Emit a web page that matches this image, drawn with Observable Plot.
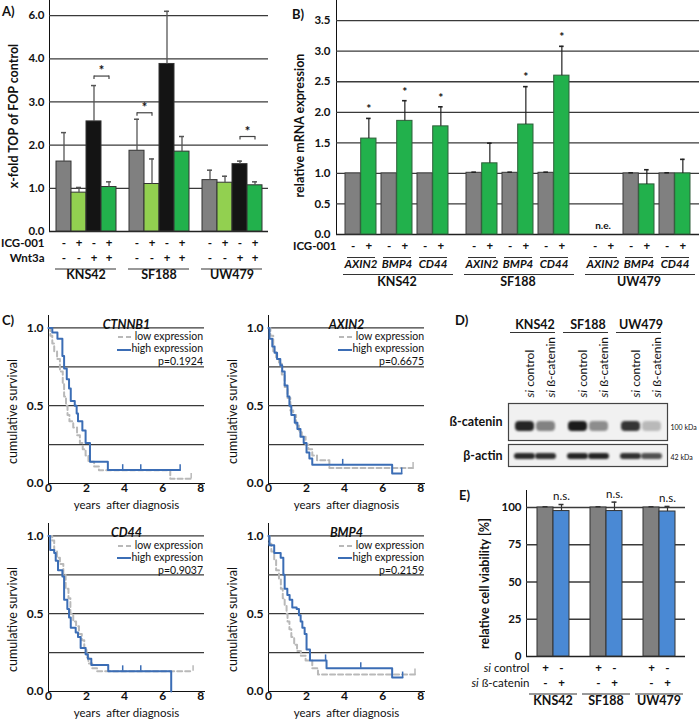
<!DOCTYPE html>
<html><head><meta charset="utf-8">
<script src="https://cdn.jsdelivr.net/npm/d3@7"></script>
<script src="https://cdn.jsdelivr.net/npm/@observablehq/plot@0.6"></script>
<style>
html,body{margin:0;padding:0;background:#fff}
#fig{position:relative;width:700px;height:723px;overflow:hidden;font-family:Lato,sans-serif;color:#111}
#fig svg{max-width:none}
.tag{position:absolute;font-weight:bold;font-size:13px;line-height:14px}
.kmleg{position:absolute;text-align:right;font-size:10.5px;line-height:12.6px;white-space:nowrap}
.kmleg svg{vertical-align:middle}
</style></head><body><div id="fig"></div>
<script>
// ---------------- data ----------------
const cellLines = ["KNS42", "SF188", "UW479"];

// Panel A: TOP/FOP flash
const condA = ["ctrl", "ICG-001", "Wnt3a", "ICG-001+Wnt3a"];
const icgSignA = ["-", "+", "-", "+"];
const wntSignA = ["-", "-", "+", "+"];
const colorsA = ["#808080", "#92d050", "#141414", "#22b14c"];
const topValue = [[1.62, 0.90, 2.55, 1.03], [1.87, 1.10, 3.88, 1.85], [1.19, 1.13, 1.56, 1.07]];
const topErr = [[0.67, 0.12, 0.83, 0.12], [0.73, 0.58, 2.32, 0.35], [0.23, 0.15, 0.07, 0.08]];
const sigLineA = ["KNS42", "SF188", "UW479"];
const sigFromA = ["Wnt3a", "ctrl", "Wnt3a"];
const sigToA = ["ICG-001+Wnt3a", "ICG-001", "ICG-001+Wnt3a"];
const sigHeightA = [3.6, 2.75, 2.2];
const yTicksA = [0, 1, 2, 3, 4, 6];

// Panel B: qPCR
const genes = ["AXIN2", "BMP4", "CD44"];
const mrnaCtrl = [[1, 1, 1], [1.01, 1.01, 1.01], [null, 1, 1]];
const mrnaCtrlErr = [[0, 0, 0], [0.01, 0.01, 0.01], [null, 0.01, 0.01]];
const mrnaIcg = [[1.57, 1.86, 1.77], [1.165, 1.80, 2.60], [null, 0.82, 1.00]];
const mrnaIcgErr = [[0.33, 0.33, 0.32], [0.33, 0.62, 0.48], [null, 0.24, 0.23]];
const mrnaSig = [[true, true, true], [false, true, true], [false, false, false]];
const yTicksB = [0, 0.5, 1, 1.5, 2, 2.5, 3, 3.5];

// Panel C: Kaplan-Meier [years, survival]
const kmTitles = ["CTNNB1", "AXIN2", "CD44", "BMP4"];
const kmP = ["0.1924", "0.6675", "0.9037", "0.2159"];
const ctnnb1Low = [[0,1],[0.1,0.95],[0.2,0.9],[0.3,0.85],[0.45,0.8],[0.6,0.72],[0.75,0.64],[0.82,0.56],[0.92,0.5],[1.0,0.44],[1.1,0.4],[1.3,0.36],[1.5,0.31],[1.65,0.26],[1.8,0.22],[1.95,0.18],[2.1,0.14],[2.4,0.11],[2.65,0.085],[6.4,0.03],[7.5,0.03]];
const ctnnb1High = [[0,1],[0.2,0.97],[0.47,0.93],[0.73,0.82],[0.82,0.74],[0.96,0.67],[1.08,0.61],[1.17,0.53],[1.38,0.5],[1.48,0.45],[1.55,0.4],[1.78,0.34],[1.95,0.26],[2.18,0.14],[3.12,0.086],[6.92,0.086]];
const ctnnb1LowCens = [7.5];
const ctnnb1HighCens = [3.9, 4.85, 6.92];
const axin2Low = [[0,1],[0.1,0.95],[0.25,0.85],[0.4,0.8],[0.55,0.77],[0.7,0.7],[0.85,0.62],[1.0,0.55],[1.15,0.47],[1.3,0.44],[1.45,0.38],[1.6,0.33],[1.75,0.3],[1.95,0.25],[2.1,0.22],[2.3,0.18],[2.55,0.15],[3.2,0.1],[7.6,0.1]];
const axin2High = [[0,1],[0.05,0.93],[0.2,0.88],[0.32,0.84],[0.45,0.8],[0.62,0.76],[0.72,0.72],[0.85,0.63],[1.0,0.56],[1.1,0.5],[1.2,0.44],[1.38,0.39],[1.52,0.35],[1.68,0.3],[1.85,0.26],[2.0,0.2],[2.15,0.16],[2.3,0.12],[6.5,0.065],[7.0,0.065]];
const axin2LowCens = [7.6];
const axin2HighCens = [3.9, 7.0];
const cd44Low = [[0,1],[0.2,0.97],[0.3,0.9],[0.45,0.86],[0.6,0.82],[0.78,0.75],[0.9,0.66],[1.05,0.6],[1.15,0.5],[1.3,0.45],[1.45,0.42],[1.6,0.37],[1.75,0.33],[1.88,0.28],[2.0,0.22],[2.1,0.18],[2.3,0.15],[2.55,0.13],[7.6,0.13]];
const cd44High = [[0,1],[0.09,0.91],[0.3,0.89],[0.38,0.84],[0.5,0.78],[0.73,0.74],[0.82,0.59],[0.99,0.53],[1.08,0.475],[1.17,0.41],[1.43,0.38],[1.55,0.35],[1.69,0.28],[1.95,0.24],[2.07,0.21],[2.25,0.17],[3.14,0.13],[6.45,0.0]];
const cd44LowCens = [7.6];
const cd44HighCens = [3.9, 4.85];
const bmp4Low = [[0,1],[0.05,0.95],[0.15,0.9],[0.3,0.85],[0.4,0.78],[0.55,0.72],[0.65,0.66],[0.75,0.6],[0.85,0.55],[0.95,0.5],[1.0,0.45],[1.1,0.4],[1.2,0.35],[1.35,0.3],[1.5,0.26],[1.7,0.23],[1.95,0.2],[2.3,0.15],[2.6,0.11],[7.7,0.11]];
const bmp4High = [[0,1],[0.05,0.94],[0.3,0.89],[0.64,0.86],[0.78,0.75],[0.85,0.66],[0.99,0.62],[1.11,0.59],[1.25,0.54],[1.48,0.53],[1.6,0.49],[1.69,0.45],[1.78,0.41],[1.9,0.37],[2.0,0.27],[2.18,0.2],[3.05,0.15],[6.5,0.09],[7.05,0.09]];
const bmp4LowCens = [7.7];
const bmp4HighCens = [3.0, 4.85, 7.05];

// Panel D: western blot band intensities
const blotLanes = ["si control", "si ß-catenin"];
const cateninSignal = [[0.92, 0.5], [0.97, 0.45], [0.85, 0.25]];
const actinSignal = [[0.9, 0.88], [0.93, 0.93], [0.88, 0.72]];

// Panel E: viability
const condE = ["si control", "si ß-catenin"];
const ctrlSignE = ["+", "-"];
const siSignE = ["-", "+"];
const colorsE = ["#808080", "#4a89d4"];
const viabValue = [[100, 97.6], [100, 97.6], [100, 97.3]];
const viabErr = [[0.5, 4.4], [0.5, 6.0], [0.5, 3.4]];
const viabTicks = [0, 25, 50, 75, 100];

// ---------------- helpers ----------------
const fig = document.getElementById("fig");
const baseStyle = {fontFamily: "Lato, sans-serif", fontSize: "11.5px", fontWeight: "bold", color: "#111", background: "transparent", overflow: "visible"};
function put(node, left, top) {
  node.style.position = "absolute"; node.style.left = left + "px"; node.style.top = top + "px";
  fig.appendChild(node); return node;
}
function tag(text, left, top) {
  const d = document.createElement("div"); d.className = "tag"; d.textContent = text;
  d.style.left = left + "px"; d.style.top = top + "px"; fig.appendChild(d);
}
function italicSi(svg) {
  d3.select(svg).selectAll("text").each(function () {
    const t = this.textContent;
    if (t.startsWith("si ") && this.childElementCount === 0) {
      this.textContent = "";
      d3.select(this).append("tspan").attr("font-style", "italic").text("si");
      d3.select(this).append("tspan").text(t.slice(2));
    }
  });
  return svg;
}
const first = () => cellLines[0];
const last = () => cellLines[cellLines.length - 1];
const gridColor = "#3a3a3a";

// ---------------- Panel A ----------------
const posA = v => v <= 4 ? v : 4 + (v - 4) / 2;
const invA = p => p <= 4 ? p : 4 + (p - 4) * 2;
const rowsA = cellLines.flatMap((line, i) => condA.map((cond, j) => ({line, cond, value: topValue[i][j], err: topErr[i][j], icg: icgSignA[j], wnt: wntSignA[j]})));
const sigA = sigLineA.map((line, i) => ({line, from: sigFromA[i], to: sigToA[i], h: sigHeightA[i]}));
const sigEndsA = sigA.flatMap(d => [{line: d.line, x: d.from, h: d.h}, {line: d.line, x: d.to, h: d.h}]);

const plotA = Plot.plot({
  width: 270, height: 290, marginTop: 0, marginRight: 2, marginBottom: 59, marginLeft: 48,
  style: baseStyle,
  fx: {domain: cellLines, paddingInner: 0, paddingOuter: 0, axis: null},
  x: {domain: condA, paddingInner: 0, paddingOuter: 0.39, axis: null},
  y: {domain: [0, 5.35], ticks: yTicksA.map(posA), tickFormat: d => invA(d).toFixed(1), tickSize: 0, tickPadding: 5, line: true, label: null},
  color: {domain: condA, range: colorsA},
  marks: [
    Plot.ruleY(yTicksA.slice(1).map(posA), {stroke: gridColor, strokeWidth: 1.3}),
    Plot.ruleY([0], {stroke: "#222", strokeWidth: 1.5}),
    Plot.barY(rowsA, {fx: "line", x: "cond", y: d => posA(d.value), fill: "cond", stroke: "#333", strokeWidth: 1}),
    Plot.ruleX(rowsA, {fx: "line", x: "cond", y1: d => posA(d.value), y2: d => posA(d.value + d.err), stroke: "#555", strokeWidth: 1.3}),
    Plot.tickY(rowsA, {fx: "line", x: "cond", y: d => posA(d.value + d.err), stroke: "#555", strokeWidth: 1.5, inset: 5}),
    Plot.link(sigA, {fx: "line", x1: "from", x2: "to", y1: d => posA(d.h), y2: d => posA(d.h), stroke: "#444", strokeWidth: 1.2}),
    Plot.ruleX(sigEndsA, {fx: "line", x: "x", y1: d => posA(d.h), y2: d => posA(d.h) - 0.08, stroke: "#444", strokeWidth: 1.2}),
    Plot.text(sigA, {fx: "line", x: "from", y: d => posA(d.h), dx: 7.6, dy: -5, text: () => "*", fontSize: 13}),
    Plot.text(rowsA, {fx: "line", x: "cond", text: "icg", frameAnchor: "bottom", dy: 15.5}),
    Plot.text(rowsA, {fx: "line", x: "cond", text: "wnt", frameAnchor: "bottom", dy: 30}),
    Plot.text(["ICG-001"], {fx: first, frameAnchor: "bottom-left", textAnchor: "end", dx: -5, dy: 15.5}),
    Plot.text(["Wnt3a"], {fx: first, frameAnchor: "bottom-left", textAnchor: "end", dx: -5, dy: 30}),
    Plot.ruleY(cellLines, {fx: d => d, y: () => 0, dy: 37.5, insetLeft: 6, insetRight: 6, stroke: "#333"}),
    Plot.text(cellLines, {fx: d => d, text: d => d, frameAnchor: "bottom", dy: 47.5, fontSize: 12.5}),
    Plot.text(["x-fold TOP of FOP control"], {fx: first, frameAnchor: "left", textAnchor: "middle", rotate: -90, dx: -36, fontSize: 12.5})
  ]
});
put(plotA, 0, 0);

// ---------------- Panel B ----------------
const HB = 15.7;
const rowsB = cellLines.flatMap((line, i) => genes.map((gene, j) => ({line, gene, ctrl: mrnaCtrl[i][j], ctrlErr: mrnaCtrlErr[i][j], icg: mrnaIcg[i][j], icgErr: mrnaIcgErr[i][j], sig: mrnaSig[i][j]})));
const rowsBm = rowsB.filter(d => d.ctrl != null);
const plotB = Plot.plot({
  width: 450, height: 292, marginTop: 0, marginRight: 0, marginBottom: 58, marginLeft: 85,
  style: baseStyle,
  fx: {domain: cellLines, paddingInner: 0, paddingOuter: 0, axis: null},
  x: {domain: genes, paddingInner: 0.138, paddingOuter: 0.22, axis: null},
  y: {domain: [0, 3.83], ticks: yTicksB, tickFormat: d => d.toFixed(1), tickSize: 0, tickPadding: 6, line: true, label: null},
  marks: [
    Plot.ruleY(yTicksB.slice(1), {stroke: gridColor, strokeWidth: 1.3}),
    Plot.ruleY([0], {stroke: "#222", strokeWidth: 1.5}),
    Plot.barY(rowsBm, {fx: "line", x: "gene", y: "ctrl", fill: "#808080", stroke: "#3a3a3a", strokeWidth: 1, insetRight: HB}),
    Plot.barY(rowsBm, {fx: "line", x: "gene", y: "icg", fill: "#22b14c", stroke: "#2f5e3a", strokeWidth: 1, insetLeft: HB}),
    Plot.ruleX(rowsBm, {fx: "line", x: "gene", y1: "icg", y2: d => d.icg + d.icgErr, dx: HB / 2, stroke: "#222", strokeWidth: 1.2}),
    Plot.tickY(rowsBm, {fx: "line", x: "gene", y: d => d.icg + d.icgErr, dx: HB / 2, insetLeft: 13.2, insetRight: 13.2, stroke: "#222", strokeWidth: 1.6}),
    Plot.tickY(rowsBm.filter(d => d.ctrlErr > 0), {fx: "line", x: "gene", y: d => d.ctrl + d.ctrlErr, dx: -HB / 2, insetLeft: 13.2, insetRight: 13.2, stroke: "#222", strokeWidth: 1.6}),
    Plot.text(rowsBm.filter(d => d.sig), {fx: "line", x: "gene", y: d => d.icg + d.icgErr, dx: HB / 2, dy: -9, text: () => "*", fontSize: 12}),
    Plot.text(rowsB.filter(d => d.ctrl == null), {fx: "line", x: "gene", y: () => 0, dy: -9, text: () => "n.e.", fontSize: 10}),
    Plot.text(rowsB, {fx: "line", x: "gene", text: () => "-", frameAnchor: "bottom", dx: -HB / 2, dy: 15.5}),
    Plot.text(rowsB, {fx: "line", x: "gene", text: () => "+", frameAnchor: "bottom", dx: HB / 2, dy: 15.5}),
    Plot.tickY(rowsB, {fx: "line", x: "gene", y: () => 0, dy: 23, insetLeft: 2, insetRight: 1, stroke: "#333"}),
    Plot.text(rowsB, {fx: "line", x: "gene", text: "gene", frameAnchor: "bottom", dy: 33, fontStyle: "italic"}),
    Plot.ruleY(cellLines, {fx: d => d, y: () => 0, dy: 40, insetLeft: 7, insetRight: 4, stroke: "#333"}),
    Plot.text(cellLines, {fx: d => d, text: d => d, frameAnchor: "bottom", dy: 51, fontSize: 12.5}),
    Plot.text(["ICG-001"], {fx: first, frameAnchor: "bottom-left", textAnchor: "end", dx: 0, dy: 15.5}),
    Plot.text(["relative mRNA expression"], {fx: first, frameAnchor: "left", textAnchor: "middle", rotate: -90, dx: -37, dy: 8, fontSize: 12.5})
  ]
});
put(plotB, 250, 0);

// ---------------- Panel C ----------------
const grayKM = "#b9b9b9", blueKM = "#3b6db5";
function stepAt(series, t) { let s = series[0][1]; for (const [tt, ss] of series) if (tt <= t) s = ss; return s; }
function kmPlot(title, low, high, lowCens, highCens) {
  const toObj = a => a.map(([t, s]) => ({t, s}));
  const cens = (ser, ts) => ts.map(t => ({t, s: stepAt(ser, t)}));
  return Plot.plot({
    width: 215, height: 205, marginTop: 10, marginRight: 11, marginBottom: 27, marginLeft: 48,
    style: {...baseStyle, fontSize: "12px"},
    x: {domain: [0, 8.2], ticks: [0, 2, 4, 6, 8], tickFormat: d => String(d), tickSize: 0, tickPadding: 0, line: true, label: null},
    y: {domain: [0, 1.08], ticks: [0, 0.5, 1], tickFormat: d => d.toFixed(1), tickSize: 0, tickPadding: 5, line: true, label: null},
    marks: [
      Plot.ruleY([0.25, 0.5, 0.75, 1], {stroke: gridColor, strokeWidth: 1.3}),
      Plot.line(toObj(low), {x: "t", y: "s", curve: "step-after", stroke: grayKM, strokeWidth: 2, strokeDasharray: "5,3"}),
      Plot.ruleX(cens(low, lowCens), {x: "t", y1: "s", y2: d => d.s + 0.035, stroke: grayKM, strokeWidth: 1.5}),
      Plot.line(toObj(high), {x: "t", y: "s", curve: "step-after", stroke: blueKM, strokeWidth: 2}),
      Plot.ruleX(cens(high, highCens), {x: "t", y1: "s", y2: d => d.s + 0.035, stroke: blueKM, strokeWidth: 1.5}),
      Plot.text([title], {frameAnchor: "top", dy: 5, fontStyle: "italic", fontSize: 12.5}),
      Plot.text(["years  after diagnosis"], {frameAnchor: "bottom", dy: 25, fontWeight: "normal", fontSize: 11.5}),
      Plot.text(["cumulative survival"], {frameAnchor: "left", textAnchor: "middle", rotate: -90, dx: -36, dy: 12, fontWeight: "normal", fontSize: 12.5})
    ]
  });
}
function kmLegend(right, top, p) {
  const div = document.createElement("div");
  div.className = "kmleg";
  div.style.right = (700 - right) + "px"; div.style.top = top + "px";
  div.innerHTML = `<div><svg width="14" height="6"><line x1="0" y1="3" x2="14" y2="3" stroke="${grayKM}" stroke-width="2" stroke-dasharray="5,3"/></svg> low expression</div>` +
    `<div><svg width="14" height="6"><line x1="0" y1="3" x2="14" y2="3" stroke="${blueKM}" stroke-width="2"/></svg>high expression</div>` +
    `<div>p=${p}</div>`;
  fig.appendChild(div);
}
put(kmPlot(kmTitles[0], ctnnb1Low, ctnnb1High, ctnnb1LowCens, ctnnb1HighCens), 0, 305);
put(kmPlot(kmTitles[1], axin2Low, axin2High, axin2LowCens, axin2HighCens), 220, 305);
put(kmPlot(kmTitles[2], cd44Low, cd44High, cd44LowCens, cd44HighCens), 0, 513);
put(kmPlot(kmTitles[3], bmp4Low, bmp4High, bmp4LowCens, bmp4HighCens), 220, 513);
kmLegend(203, 329.7, kmP[0]);
kmLegend(424, 329.7, kmP[1]);
kmLegend(203, 538.5, kmP[2]);
kmLegend(424, 538.5, kmP[3]);

// ---------------- Panel D ----------------
const rowsD = cellLines.flatMap((line, i) => blotLanes.map((lane, j) => ({line, lane, cat: cateninSignal[i][j], act: actinSignal[i][j]})));
const blotCommon = {
  width: 270, marginRight: 33, marginLeft: 78, style: baseStyle,
  fx: {domain: cellLines, paddingInner: 0, paddingOuter: 0, axis: null},
  x: {domain: blotLanes, paddingInner: 0, paddingOuter: 0.26, axis: null},
  y: {domain: [0, 1], axis: null},
  opacity: {type: "identity"}
};
const blot1 = Plot.plot({
  ...blotCommon, height: 145, marginTop: 103, marginBottom: 5,
  marks: [
    Plot.frame({facet: "super", fill: "#f1f1f1", stroke: "none"}),
    Plot.cell(rowsD, {fx: "line", x: "lane", fill: "#141414", fillOpacity: "cat", insetTop: 18, insetBottom: 9, insetLeft: 1, insetRight: 1, rx: 4}),
    Plot.frame({facet: "super", stroke: "#444", strokeWidth: 1.2}),
    Plot.text(rowsD, {fx: "line", x: "lane", text: "lane", frameAnchor: "top", rotate: -90, textAnchor: "start", dy: -6, fontWeight: "normal", fontSize: 12}),
    Plot.text(cellLines, {fx: d => d, text: d => d, frameAnchor: "top", dy: -83, fontSize: 12.5}),
    Plot.ruleY(cellLines, {fx: d => d, y: () => 1, dy: -71, insetLeft: 2, insetRight: 6, stroke: "#333"}),
    Plot.text(["ß-catenin"], {fx: first, frameAnchor: "left", textAnchor: "end", dx: -6, fontSize: 12.5}),
    Plot.text(["100 kDa"], {fx: last, frameAnchor: "right", textAnchor: "start", dx: 3, dy: 6, fontSize: 7, fontWeight: "normal"})
  ]
});
const blot2 = Plot.plot({
  ...blotCommon, height: 30, marginTop: 4, marginBottom: 4,
  marks: [
    Plot.frame({facet: "super", fill: "#f1f1f1", stroke: "none"}),
    Plot.cell(rowsD, {fx: "line", x: "lane", fill: "#141414", fillOpacity: "act", insetTop: 9, insetBottom: 7, insetLeft: 0, insetRight: 0, rx: 3}),
    Plot.frame({facet: "super", stroke: "#444", strokeWidth: 1.2}),
    Plot.text(["β-actin"], {fx: first, frameAnchor: "left", textAnchor: "end", dx: -6, fontSize: 12.5}),
    Plot.text(["42 kDa"], {fx: last, frameAnchor: "right", textAnchor: "start", dx: 3, dy: 2, fontSize: 7, fontWeight: "normal"})
  ]
});
for (const b of [blot1, blot2]) d3.select(b).selectAll("g[aria-label=cell] rect").style("filter", "blur(1.2px)");
put(italicSi(blot1), 430, 300);
put(blot2, 430, 440);

// ---------------- Panel E ----------------
const rowsE = cellLines.flatMap((line, i) => condE.map((cond, j) => ({line, cond, value: viabValue[i][j], err: viabErr[i][j], cs: ctrlSignE[j], ss: siSignE[j]})));
const plotE = Plot.plot({
  width: 250, height: 235, marginTop: 10, marginRight: 4, marginBottom: 59, marginLeft: 85,
  style: baseStyle,
  fx: {domain: cellLines, paddingInner: 0, paddingOuter: 0, axis: null},
  x: {domain: condE, paddingInner: 0, paddingOuter: 0.6, axis: null},
  y: {domain: [0, 111.4], ticks: viabTicks, tickFormat: d => String(d), tickSize: 0, tickPadding: 5, line: true, label: null},
  color: {domain: condE, range: colorsE},
  marks: [
    Plot.ruleY(viabTicks.slice(1), {stroke: gridColor, strokeWidth: 1.3}),
    Plot.ruleY([0], {stroke: "#222", strokeWidth: 1.5}),
    Plot.barY(rowsE, {fx: "line", x: "cond", y: "value", fill: "cond", stroke: "#333", strokeWidth: 1}),
    Plot.ruleX(rowsE, {fx: "line", x: "cond", y1: "value", y2: d => d.value + d.err, stroke: "#333", strokeWidth: 1.2}),
    Plot.tickY(rowsE, {fx: "line", x: "cond", y: d => d.value + d.err, inset: 5.5, stroke: "#333", strokeWidth: 1.5}),
    Plot.text(rowsE.filter(d => d.cond === condE[1]), {fx: "line", x: "cond", y: d => d.value + d.err, dy: -8, text: () => "n.s.", fontWeight: "normal", fontSize: 11.5}),
    Plot.text(rowsE, {fx: "line", x: "cond", text: "cs", frameAnchor: "bottom", dy: 15.5}),
    Plot.text(rowsE, {fx: "line", x: "cond", text: "ss", frameAnchor: "bottom", dy: 30}),
    Plot.text([condE[0]], {fx: first, frameAnchor: "bottom-left", textAnchor: "end", dx: 3, dy: 15.5, fontWeight: "normal", fontSize: 11.5}),
    Plot.text([condE[1]], {fx: first, frameAnchor: "bottom-left", textAnchor: "end", dx: 3, dy: 30, fontWeight: "normal", fontSize: 11.5}),
    Plot.ruleY(cellLines, {fx: d => d, y: () => 0, dy: 37.5, insetLeft: 3, insetRight: 2, stroke: "#333"}),
    Plot.text(cellLines, {fx: d => d, text: d => d, frameAnchor: "bottom", dy: 48, fontSize: 12.5}),
    Plot.text(["relative cell viability [%]"], {fx: first, frameAnchor: "left", textAnchor: "middle", rotate: -90, dx: -42, dy: 10, fontSize: 12.5})
  ]
});
put(italicSi(plotE), 440, 480);

// ---------------- panel tags ----------------
tag("A)", 2, 4);
tag("B)", 292, 7);
tag("C)", 2, 313);
tag("D)", 455, 313);
tag("E)", 459, 488);
</script></body></html>
